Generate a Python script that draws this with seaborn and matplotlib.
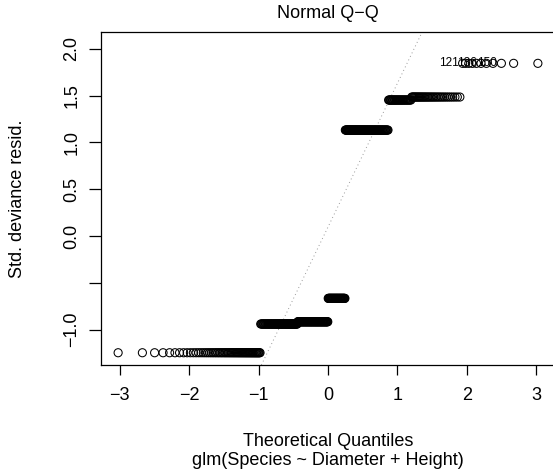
from statistics import NormalDist
import numpy as np
import pandas as pd
import seaborn as sns
import matplotlib
matplotlib.use("Agg")
import matplotlib.pyplot as plt

# deviance residual levels and how many points sit on each
resid_levels = [-1.247, -0.940, -0.916, -0.666, 1.132, 1.453, 1.485, 1.845]
resid_counts = [66, 66, 68, 39, 84, 31, 35, 11]

# labelled points: rank inside the top group and their id
label_ids = ["121", "136", "150"]
label_ranks = [0, 5, 8]

x_ticks = [-3, -2, -1, 0, 1, 2, 3]
y_ticks = [-1.0, -0.5, 0.0, 0.5, 1.0, 1.5, 2.0]
y_ticklabels = ["\u22121.0", "", "0.0", "0.5", "1.0", "1.5", "2.0"]

# build the sample and its normal quantiles (like qqnorm / ppoints)
resid = np.repeat(resid_levels, resid_counts)
n = len(resid)
nd = NormalDist()
theo = np.array([nd.inv_cdf((i - 0.5) / n) for i in range(1, n + 1)])
df = pd.DataFrame({"theo": theo, "resid": np.sort(resid)})

# qqline through the quartiles
q1, q3 = np.quantile(resid, [0.25, 0.75])
z1, z3 = nd.inv_cdf(0.25), nd.inv_cdf(0.75)
slope = (q3 - q1) / (z3 - z1)
intercept = q1 - slope * z1

sns.set_theme(style="white")
plt.rcParams["font.family"] = ["Liberation Sans", "DejaVu Sans"]
plt.rcParams["axes.unicode_minus"] = True
plt.rcParams["text.color"] = "black"
plt.rcParams["axes.labelcolor"] = "black"
plt.rcParams["xtick.color"] = "black"
plt.rcParams["ytick.color"] = "black"

fs = 13

fig = plt.figure(figsize=(5.53, 4.70), dpi=100)
ax = fig.add_axes([101 / 553, 1 - 365 / 470, 454 / 553, 333.3 / 470])

ax.axline((0, intercept), slope=slope, color="#999999", lw=0.7,
          linestyle=(0, (1, 3)), zorder=1)
sns.scatterplot(data=df, x="theo", y="resid", ax=ax, marker="o", s=34,
                facecolors="none", edgecolor="black", linewidth=0.75,
                zorder=2, legend=False)

# id labels of the largest residuals
top = df[df["resid"] == resid_levels[-1]].reset_index(drop=True)
for lab, r in zip(label_ids, label_ranks):
    ax.annotate(lab, (top.loc[r, "theo"], top.loc[r, "resid"]),
                xytext=(-3, 0), textcoords="offset points",
                ha="right", va="center", fontsize=8.5, color="black")

ax.set_xlim(-3.27, 3.27)
ax.set_ylim(-1.378, 2.183)
ax.set_xticks(x_ticks)
ax.set_xticklabels([str(t).replace("-", "\u2212") for t in x_ticks])
ax.set_yticks(y_ticks)
ax.set_yticklabels(y_ticklabels, rotation=90, va="center")

for s in ax.spines.values():
    s.set_color("black")
    s.set_linewidth(0.9)
ax.tick_params(axis="x", direction="out", length=7.2, width=0.9,
               pad=9, labelsize=fs, bottom=True)
ax.tick_params(axis="y", direction="out", length=9, width=0.9,
               pad=6, labelsize=fs, left=True)

ax.set_title("Normal Q\u2212Q", fontsize=fs, pad=10)
ax.set_xlabel("Theoretical Quantiles\nglm(Species ~ Diameter + Height)",
              fontsize=fs, linespacing=1.1)
ax.xaxis.set_label_coords(0.5, -0.205)
ax.set_ylabel("Std. deviance resid.", fontsize=fs)
ax.yaxis.set_label_coords(-0.165, 0.5)

fig.savefig("out.png", dpi=100)
